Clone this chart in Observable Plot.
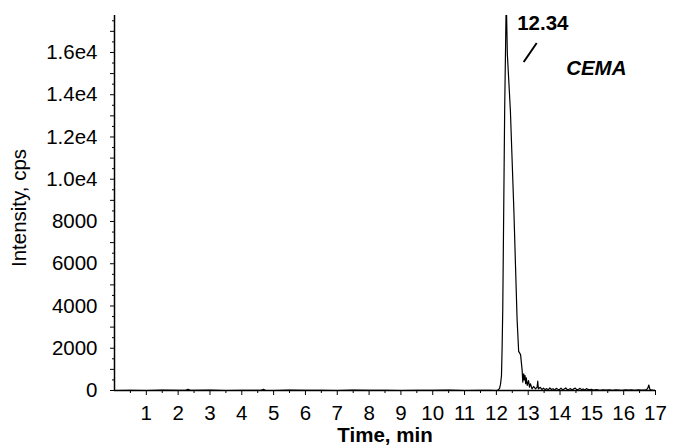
<!DOCTYPE html>
<html><head><meta charset="utf-8">
<script src="https://cdn.jsdelivr.net/npm/d3@7"></script>
<script src="https://cdn.jsdelivr.net/npm/@observablehq/plot@0.6"></script>
<style>body{margin:0;background:#fff}</style>
</head><body><div id="chart"></div>
<script>
// Chromatogram trace (time in min, intensity in cps)
const time = [
  0.00,0.50,1.00,1.50,2.00,2.25,2.31,2.38,2.50,3.00,3.50,4.00,4.50,4.62,4.68,4.74,5.00,5.50,6.00,6.50,
  7.00,7.50,8.00,8.50,9.00,9.50,10.00,10.50,11.00,11.50,11.80,12.00,12.05,
  12.10,12.13,12.16,12.18,12.20,12.23,12.26,12.29,12.31,12.345,12.44,12.55,12.65,12.70,12.76,12.81,12.83,12.86,
  12.88,12.90,12.92,12.94,12.97,13.01,13.04,13.07,13.12,13.17,13.23,13.28,13.30,13.32,13.38,13.43,
  13.48,13.53,13.58,13.63,13.68,13.73,13.78,13.83,13.88,13.93,13.98,14.03,14.08,14.13,14.18,14.23,14.28,
  14.33,14.38,14.43,14.48,14.53,14.58,14.63,14.68,14.73,14.78,14.83,14.88,14.93,14.98,
  15.05,15.15,15.25,15.35,15.45,15.55,15.65,15.75,15.85,15.95,16.05,16.15,16.25,16.35,16.45,16.55,16.65,
  16.72,16.76,16.79,16.82,16.86,16.92,17.00
];
const intensity = [
  0,10,0,15,5,20,60,10,5,15,0,10,5,20,55,10,0,15,5,10,
  0,15,5,10,0,10,5,15,0,10,5,0,20,
  100,300,700,2000,3800,8500,13250,16400,18600,15900,13250,8500,3400,1850,1700,950,400,790,
  505,710,320,600,240,470,160,320,80,190,80,160,440,80,150,50,
  110,40,90,30,120,50,80,20,100,60,40,110,30,70,120,40,60,90,20,
  80,110,30,60,100,40,70,20,90,50,30,60,
  20,40,10,30,15,35,10,25,20,10,30,15,25,10,30,15,20,
  40,120,260,60,30,20,10
];
const xTickValues = [1,2,3,4,5,6,7,8,9,10,11,12,13,14,15,16,17];
const xMinorTicks = [0.5,1.5,2.5,3.5,4.5,5.5,6.5,7.5,8.5,9.5,10.5,11.5,12.5,13.5,14.5,15.5,16.5];
const yTickValues = [0,2000,4000,6000,8000,10000,12000,14000,16000];
const yTickLabels = ["0","2000","4000","6000","8000","1.0e4","1.2e4","1.4e4","1.6e4"];
const yMidTicks = [1000,3000,5000,7000,9000,11000,13000,15000,17000];
const yMinorTicks = [500,1500,2500,3500,4500,5500,6500,7500,8500,9500,10500,11500,12500,13500,14500,15500,16500,17500];
const peakTime = 12.34;
const peakLabel = "12.34";
const compoundName = "CEMA";
const xTitle = "Time, min";
const yTitle = "Intensity, cps";

const data = time.map((t, i) => ({t, v: intensity[i]}));
const peaks = [{t: peakTime, label: peakLabel}];

const chart = Plot.plot({
  width: 674, height: 446,
  marginLeft: 114, marginRight: 19, marginTop: 15, marginBottom: 56,
  x: {domain: [0, 17]},
  y: {domain: [0, 17750]},
  style: {fontFamily: "'Liberation Sans', Arial, sans-serif", fontSize: "20.5px", color: "#000", background: "#fff"},
  marks: [
    Plot.axisY(yMinorTicks, {tickSize: 2, tickFormat: () => "", label: null}),
    Plot.axisY(yMidTicks, {tickSize: 4, tickFormat: () => "", label: null}),
    Plot.axisY(yTickValues, {tickSize: 4, tickPadding: 13, tickFormat: d => yTickLabels[yTickValues.indexOf(d)], label: null}),
    Plot.axisX(xMinorTicks, {tickSize: 3, tickFormat: () => "", label: null}),
    Plot.axisX(xTickValues, {tickSize: 5, tickPadding: 10, label: null}),
    Plot.ruleX([0], {stroke: "#000", strokeWidth: 1.5}),
    Plot.ruleY([0], {stroke: "#000", strokeWidth: 1.5}),
    Plot.line(data, {x: "t", y: "v", stroke: "#000", strokeWidth: 1.2, clip: true}),
    Plot.text([xTitle], {frameAnchor: "bottom", lineAnchor: "middle", dy: 45, fontWeight: "bold"}),
    Plot.text([yTitle], {frameAnchor: "left", textAnchor: "middle", lineAnchor: "middle", rotate: -90, dx: -95, dy: 5}),
    Plot.text(peaks, {x: "t", text: "label", frameAnchor: "top", textAnchor: "start", lineAnchor: "middle", dx: 10, dy: 8, fontWeight: "bold"}),
    (index, scales, values, dimensions) => {
      const x0 = scales.x(peakTime);
      return d3.create("svg:line")
        .attr("x1", x0 + 17).attr("y1", dimensions.marginTop + 47)
        .attr("x2", x0 + 30).attr("y2", dimensions.marginTop + 28)
        .attr("stroke", "#000").attr("stroke-width", 2).node();
    },
    Plot.text([compoundName], {frameAnchor: "top-right", textAnchor: "end", lineAnchor: "middle", dx: -29, dy: 52.5, fontWeight: "bold", fontStyle: "italic"})
  ]
});
document.getElementById("chart").appendChild(chart);
</script>
</body></html>
